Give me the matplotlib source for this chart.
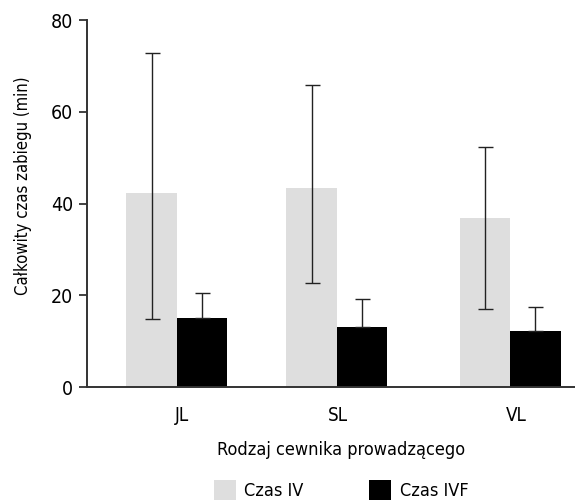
import matplotlib
matplotlib.use("Agg")
import matplotlib.pyplot as plt
import numpy as np

plt.rcParams['font.family'] = ['DejaVu Sans']
plt.rcParams['font.stretch'] = 'condensed'

categories = ["JL", "SL", "VL"]
czas_iv = [42.3, 43.4, 36.9]
czas_iv_low = [14.9, 22.6, 17.0]
czas_iv_high = [72.8, 65.9, 52.4]
czas_ivf = [15.1, 13.1, 12.2]
czas_ivf_high = [20.5, 19.2, 17.4]

# group centres are not quite evenly spaced in the original
xpos = np.array([0.0, 0.96, 2.0])
w = 0.303

fig = plt.figure(figsize=(5.75, 5.01), dpi=100)
ax = fig.add_axes([0.151, 0.2275, 0.849, 0.7325])

iv_err = [np.array(czas_iv) - np.array(czas_iv_low),
          np.array(czas_iv_high) - np.array(czas_iv)]
ivf_err = [np.zeros(3), np.array(czas_ivf_high) - np.array(czas_ivf)]

ekw = dict(ecolor='#222222', elinewidth=1.0, capsize=5.4, capthick=1.0)
ax.bar(xpos - w / 2, czas_iv, w, color='#dedede', label='Czas IV',
       yerr=iv_err, error_kw=ekw)
ax.bar(xpos + w / 2, czas_ivf, w, color='black', label='Czas IVF',
       yerr=ivf_err, error_kw=ekw)

ax.set_ylim(0, 80)
ax.set_xlim(-0.54, 2.39)
ax.set_yticks([0, 20, 40, 60, 80])
ax.set_xticks(xpos + np.array([0.03, 0.01, 0.04]))
ax.set_xticklabels(categories)
ax.tick_params(axis='x', length=0, pad=14, labelsize=13.5)
ax.tick_params(axis='y', length=6, width=1.3, color='#333333', labelsize=14, pad=4)

for s in ['top', 'right']:
    ax.spines[s].set_visible(False)
for s in ['left', 'bottom']:
    ax.spines[s].set_linewidth(1.4)
    ax.spines[s].set_color('#333333')

ax.set_ylabel("Całkowity czas zabiegu (min)", fontsize=12)
ax.yaxis.set_label_coords(-0.113, 0.548)
ax.set_xlabel("Rodzaj cewnika prowadzącego", fontsize=13)
ax.xaxis.set_label_coords(0.52, -0.148)

fig.legend(loc='center', bbox_to_anchor=(0.593, 0.022), ncol=2, frameon=False,
           fontsize=13, handlelength=1.25, handleheight=1.4, columnspacing=3.6,
           handletextpad=0.45)

plt.savefig("out.png", dpi=100)
